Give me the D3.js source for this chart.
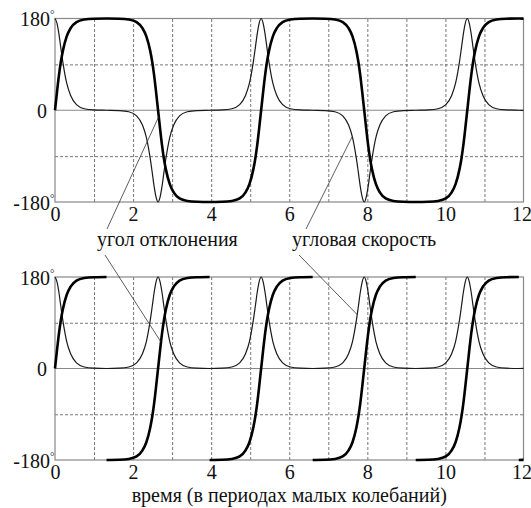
<!DOCTYPE html>
<html>
<head>
<meta charset="utf-8">
<script src="https://cdn.jsdelivr.net/npm/d3@7"></script>
</head>
<body style="margin:0">
<script>
// Set up canvas
var width = 531, height = 508;

// axis ticks
var xTicks = [0, 2, 4, 6, 8, 10, 12];
var yTicks = [-180, 0, 180];
var xGrid = [1, 2, 3, 4, 5, 6, 7, 8, 9, 10, 11];
var yGrid = [-90, 90];

// time samples (in periods of small oscillations)
var tGrid = [0, 0.05, 0.1, 0.15, 0.2, 0.3, 0.4, 0.55, 0.75, 1.0, 1.32,
  1.64, 1.89, 2.09, 2.24, 2.34, 2.44, 2.49, 2.54, 2.59, 2.64, 2.69, 2.74, 2.79, 2.84, 2.94, 3.04, 3.19, 3.39, 3.64, 3.96,
  4.28, 4.53, 4.73, 4.88, 4.98, 5.08, 5.13, 5.18, 5.23, 5.28, 5.33, 5.38, 5.43, 5.48, 5.58, 5.68, 5.83, 6.03, 6.28, 6.60,
  6.92, 7.17, 7.37, 7.52, 7.62, 7.72, 7.77, 7.82, 7.87, 7.92, 7.97, 8.02, 8.07, 8.12, 8.22, 8.32, 8.47, 8.67, 8.92, 9.24,
  9.56, 9.81, 10.01, 10.16, 10.26, 10.36, 10.41, 10.46, 10.51, 10.56, 10.61, 10.66, 10.71, 10.76, 10.86, 10.96, 11.11, 11.31, 11.56, 11.88, 12.0];

// top panel: angle (thick) and angular velocity (thin), degrees
var angleTop = [0, 35, 68, 95, 116, 145, 161, 173, 178, 179.6, 180,
  179.6, 178, 173, 161, 145, 116, 95, 68, 35, 0, -35, -68, -95, -116, -145, -161, -173, -178, -179.6, -180,
  -179.6, -178, -173, -161, -145, -116, -95, -68, -35, 0, 35, 68, 95, 116, 145, 161, 173, 178, 179.6, 180,
  179.6, 178, 173, 161, 145, 116, 95, 68, 35, 0, -35, -68, -95, -116, -145, -161, -173, -178, -179.6, -180,
  -179.6, -178, -173, -161, -145, -116, -95, -68, -35, 0, 35, 68, 95, 116, 145, 161, 173, 178, 179.6, 180, 179.8];

var speedTop = [180, 171, 150, 122, 95, 53, 29, 11, 3, 0.7, 0,
  -0.7, -3, -11, -29, -53, -95, -122, -150, -171, -180, -171, -150, -122, -95, -53, -29, -11, -3, -0.7, 0,
  0.7, 3, 11, 29, 53, 95, 122, 150, 171, 180, 171, 150, 122, 95, 53, 29, 11, 3, 0.7, 0,
  -0.7, -3, -11, -29, -53, -95, -122, -150, -171, -180, -171, -150, -122, -95, -53, -29, -11, -3, -0.7, 0,
  0.7, 3, 11, 29, 53, 95, 122, 150, 171, 180, 171, 150, 122, 95, 53, 29, 11, 3, 0.7, 0, -0.2];

// bottom panel: angular velocity on tGrid
var speedBottom = [180, 171, 150, 122, 95, 53, 29, 11, 3, 0.7, 0,
  0.7, 3, 11, 29, 53, 95, 122, 150, 171, 180, 171, 150, 122, 95, 53, 29, 11, 3, 0.7, 0,
  0.7, 3, 11, 29, 53, 95, 122, 150, 171, 180, 171, 150, 122, 95, 53, 29, 11, 3, 0.7, 0,
  0.7, 3, 11, 29, 53, 95, 122, 150, 171, 180, 171, 150, 122, 95, 53, 29, 11, 3, 0.7, 0,
  0.7, 3, 11, 29, 53, 95, 122, 150, 171, 180, 171, 150, 122, 95, 53, 29, 11, 3, 0.7, 0, 0.3];

// bottom panel: angle wraps from 180 to -180 (null = break in the line)
var tWrap = [0, 0.05, 0.1, 0.15, 0.2, 0.3, 0.4, 0.55, 0.75, 1.0, 1.32, 1.32, 1.32,
  1.64, 1.89, 2.09, 2.24, 2.34, 2.44, 2.49, 2.54, 2.59, 2.64, 2.69, 2.74, 2.79, 2.84, 2.94, 3.04, 3.19, 3.39, 3.64, 3.96, 3.96, 3.96,
  4.28, 4.53, 4.73, 4.88, 4.98, 5.08, 5.13, 5.18, 5.23, 5.28, 5.33, 5.38, 5.43, 5.48, 5.58, 5.68, 5.83, 6.03, 6.28, 6.60, 6.60, 6.60,
  6.92, 7.17, 7.37, 7.52, 7.62, 7.72, 7.77, 7.82, 7.87, 7.92, 7.97, 8.02, 8.07, 8.12, 8.22, 8.32, 8.47, 8.67, 8.92, 9.24, 9.24, 9.24,
  9.56, 9.81, 10.01, 10.16, 10.26, 10.36, 10.41, 10.46, 10.51, 10.56, 10.61, 10.66, 10.71, 10.76, 10.86, 10.96, 11.11, 11.31, 11.56, 11.88, 11.88, 11.88, 12.0];

var angleBottom = [0, 35, 68, 95, 116, 145, 161, 173, 178, 179.6, 180, null, -180,
  -179.6, -178, -173, -161, -145, -116, -95, -68, -35, 0, 35, 68, 95, 116, 145, 161, 173, 178, 179.6, 180, null, -180,
  -179.6, -178, -173, -161, -145, -116, -95, -68, -35, 0, 35, 68, 95, 116, 145, 161, 173, 178, 179.6, 180, null, -180,
  -179.6, -178, -173, -161, -145, -116, -95, -68, -35, 0, 35, 68, 95, 116, 145, 161, 173, 178, 179.6, 180, null, -180,
  -179.6, -178, -173, -161, -145, -116, -95, -68, -35, 0, 35, 68, 95, 116, 145, 161, 173, 178, 179.6, 180, null, -180, -179.8];

// labels and where their leader lines point (time, degrees)
var labels = ["угол отклонения", "угловая скорость"];
var topTargets = [[2.66, -12], [7.61, -52]];
var bottomTargets = [[2.715, 52], [7.74, 106]];
var xTitle = "время (в периодах малых колебаний)";

var FONT = '"Liberation Serif"';

var svg = d3.select("body")
    .append("svg")
    .attr("width", width)
    .attr("height", height);

svg.append("rect")
    .attr("width", width)
    .attr("height", height)
    .attr("fill", "#fff");

var xscale = d3.scaleLinear()
    .domain([0, 12])
    .range([55, 523.5]);

var yTopScale = d3.scaleLinear().domain([-180, 180]).range([202, 18.5]);
var yBotScale = d3.scaleLinear().domain([-180, 180]).range([460, 277]);

// plain hyphen instead of the unicode minus
function fmt(d) { return String(d); }

function drawPanel(yscale, series) {
    var g = svg.append("g");
    var top = yscale(180), bottom = yscale(-180);

    // dashed grid
    g.append("g")
        .attr("transform", "translate(0," + bottom + ")")
        .call(d3.axisBottom(xscale).tickValues(xGrid).tickSize(-(bottom - top)).tickFormat(""))
        .call(function(a) { a.select(".domain").remove(); })
        .selectAll("line")
        .attr("stroke", "#555")
        .attr("stroke-width", 0.8)
        .attr("stroke-dasharray", "3,2");

    g.append("g")
        .attr("transform", "translate(" + xscale(0) + ",0)")
        .call(d3.axisLeft(yscale).tickValues(yGrid).tickSize(-(xscale(12) - xscale(0))).tickFormat(""))
        .call(function(a) { a.select(".domain").remove(); })
        .selectAll("line")
        .attr("stroke", "#555")
        .attr("stroke-width", 0.8)
        .attr("stroke-dasharray", "3,2");

    // zero line and frame
    g.append("line")
        .attr("x1", xscale(0)).attr("x2", xscale(12))
        .attr("y1", yscale(0)).attr("y2", yscale(0))
        .attr("stroke", "#888").attr("stroke-width", 1.2);

    g.append("rect")
        .attr("x", xscale(0)).attr("y", top)
        .attr("width", xscale(12) - xscale(0))
        .attr("height", bottom - top)
        .attr("fill", "none")
        .attr("stroke", "#888")
        .attr("stroke-width", 1.2);

    // tick labels
    var xAxis = g.append("g")
        .attr("transform", "translate(0," + bottom + ")")
        .call(d3.axisBottom(xscale).tickValues(xTicks).tickSize(0).tickPadding(0).tickFormat(fmt))
        .attr("font-family", FONT)
        .attr("font-size", 20);
    xAxis.select(".domain").remove();
    xAxis.selectAll("text")
        .attr("dy", null)
        .attr("y", 19)
        .attr("fill", "#111")
        .attr("x", function(d) { return d === 12 ? -2 : 0; });

    var yAxis = g.append("g")
        .attr("transform", "translate(50,0)")
        .call(d3.axisLeft(yscale).tickValues(yTicks).tickSize(0).tickPadding(0).tickFormat(fmt))
        .attr("font-family", FONT)
        .attr("font-size", 20);
    yAxis.select(".domain").remove();
    yAxis.selectAll("text")
        .attr("dy", null)
        .attr("y", 7)
        .attr("fill", "#111")
        .attr("text-anchor", "end")
        .attr("x", function(d) { return d === 0 ? -3 : 0; });

    // degree signs hang to the right of 180 and -180
    yAxis.selectAll(".tick")
        .filter(function(d) { return d !== 0; })
        .append("text")
        .attr("x", 0)
        .attr("y", -1)
        .attr("font-size", 11)
        .attr("fill", "#111")
        .attr("text-anchor", "start")
        .text("°");

    // curves
    series.forEach(function(s) {
        var pts = s.t.map(function(t, i) { return [t, s.v[i]]; });
        var line = d3.line()
            .defined(function(d) { return d[1] !== null; })
            .x(function(d) { return xscale(d[0]); })
            .y(function(d) { return yscale(d[1]); })
            .curve(d3.curveMonotoneX);
        g.append("path")
            .datum(pts)
            .attr("d", line)
            .attr("fill", "none")
            .attr("stroke", s.color)
            .attr("stroke-width", s.w)
            .attr("stroke-linejoin", "round");
    });
}

drawPanel(yTopScale, [
    {t: tGrid, v: speedTop, w: 1.2, color: "#1a1a1a"},
    {t: tGrid, v: angleTop, w: 2.6, color: "#000"}
]);

drawPanel(yBotScale, [
    {t: tGrid, v: speedBottom, w: 1.2, color: "#1a1a1a"},
    {t: tWrap, v: angleBottom, w: 2.6, color: "#000"}
]);

// labels between the panels with leader lines
var labelX = [97, 292];
var leaderTop = [[107, 229], [306, 229]];
var leaderBot = [[105, 255], [299, 255]];

labels.forEach(function(txt, i) {
    svg.append("text")
        .attr("x", labelX[i])
        .attr("y", 246)
        .attr("fill", "#111")
        .attr("font-family", FONT)
        .attr("font-size", 20)
        .text(txt);

    svg.append("line")
        .attr("x1", leaderTop[i][0]).attr("y1", leaderTop[i][1])
        .attr("x2", xscale(topTargets[i][0])).attr("y2", yTopScale(topTargets[i][1]))
        .attr("stroke", "#333").attr("stroke-width", 0.8);

    svg.append("line")
        .attr("x1", leaderBot[i][0]).attr("y1", leaderBot[i][1])
        .attr("x2", xscale(bottomTargets[i][0])).attr("y2", yBotScale(bottomTargets[i][1]))
        .attr("stroke", "#333").attr("stroke-width", 0.8);
});

svg.append("text")
    .attr("x", (xscale(0) + xscale(12)) / 2)
    .attr("y", 502)
    .attr("text-anchor", "middle")
    .attr("fill", "#111")
    .attr("font-family", FONT)
    .attr("font-size", 20)
    .text(xTitle);
</script>
</body>
</html>
